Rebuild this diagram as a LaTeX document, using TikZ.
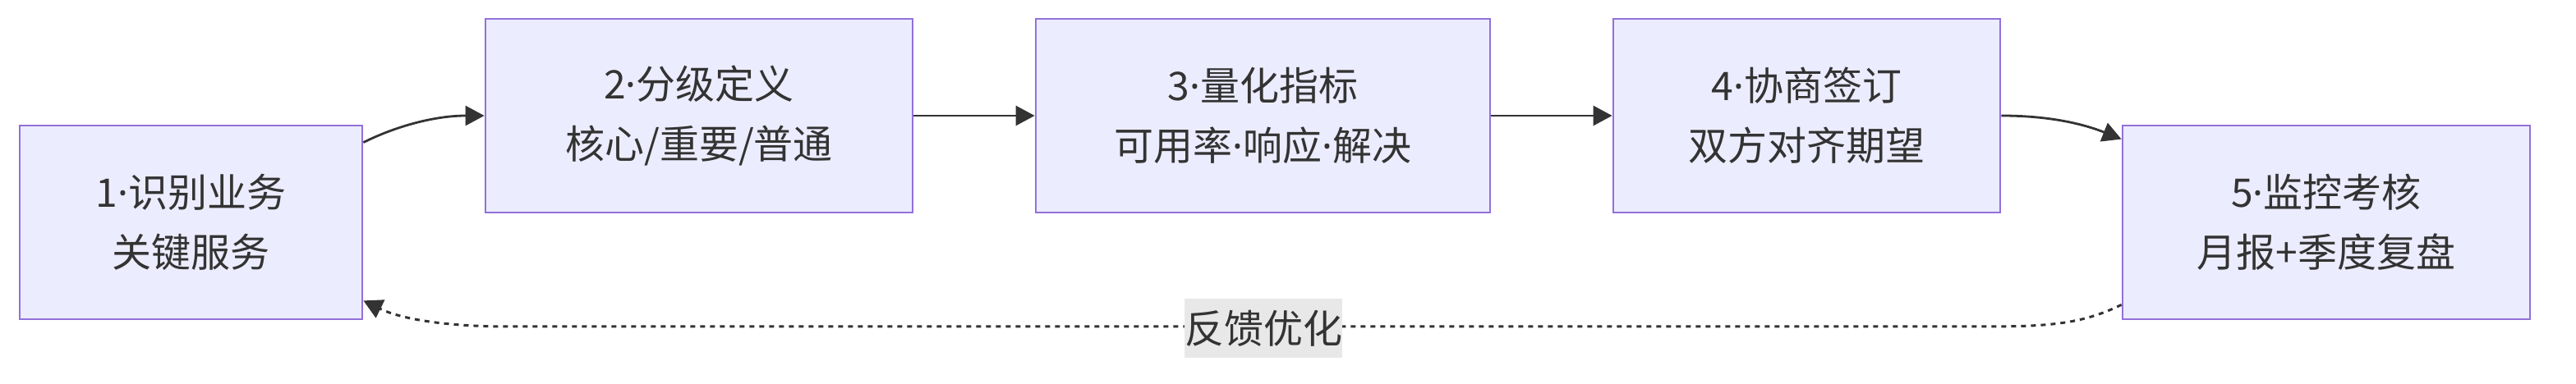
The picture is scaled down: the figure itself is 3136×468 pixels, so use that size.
\documentclass[tikz,border=0pt]{standalone}
\usepackage{fontspec}
\setmainfont{Noto Sans CJK SC}
\newfontfamily\latinf{Noto Sans}
\newcommand{\mdot}{{\latinf ·}}
\usetikzlibrary{arrows.meta,calc}
\definecolor{boxfill}{HTML}{ECECFF}
\definecolor{boxline}{HTML}{9370DB}
\definecolor{edgec}{HTML}{333333}
\definecolor{txt}{HTML}{333333}
\definecolor{lblbg}{HTML}{E8E8E8}
\tikzset{
  stepbox/.style={draw=boxline, fill=boxfill, line width=0.7pt, inner sep=0pt,
    minimum height=59pt, align=center, text=txt,
    font=\fontsize{12pt}{18.25pt}\selectfont},
  arr/.style={draw=edgec, line width=0.7pt, -{Triangle[length=5.75pt,width=6pt]}},
  dotarr/.style={draw=edgec, line width=0.75pt, dash pattern=on 1.5pt off 1.5pt,
    -{Triangle[length=5.75pt,width=6pt]}},
  lbl/.style={fill=lblbg, inner sep=0pt, minimum width=48pt, minimum height=18pt,
    text=txt, font=\fontsize{12pt}{14pt}\selectfont}
}
\begin{document}
\begin{tikzpicture}[x=0.25pt,y=-0.25pt]
\useasboundingbox (0,0) rectangle (3136,468);
\node[stepbox, minimum width=104.25pt] (b1) at (232.5,271) {1\mdot 识别业务\\关键服务};
\node[stepbox, minimum width=130pt] (b2) at (851,141) {2\mdot 分级定义\\核心/重要/普通};
\node[stepbox, minimum width=138.25pt] (b3) at (1537.5,141) {3\mdot 量化指标\\可用率\mdot 响应\mdot 解决};
\node[stepbox, minimum width=117.75pt] (b4) at (2199.5,141) {4\mdot 协商签订\\双方对齐期望};
\node[stepbox, minimum width=124pt] (b5) at (2832,271) {5\mdot 监控考核\\月报+季度复盘};
\coordinate (s12) at ($(b1.north east)+(0,22)$);
\coordinate (t45) at ($(b5.north west)+(0,18)$);
\coordinate (s51) at ($(b5.south west)+(0,-19)$);
\coordinate (t51) at ($(b1.south east)+(0,-24)$);
\coordinate (fr) at (2420,398);
\coordinate (fl) at (620,398);
\draw[arr] (s12) .. controls +(40,-20) and +(-60,0) .. (b2.west);
\draw[arr] (b2.east) -- (b3.west);
\draw[arr] (b3.east) -- (b4.west);
\draw[arr] (b4.east) .. controls +(60,0) and +(-45,-18) .. (t45);
\draw[dotarr] (s51) .. controls +(-45,22) and +(80,0) .. (fr) -- (fl) .. controls +(-80,0) and +(45,22) .. (t51);
\node[lbl] (fb) at (1538,400) {反馈优化};
\end{tikzpicture}
\end{document}
